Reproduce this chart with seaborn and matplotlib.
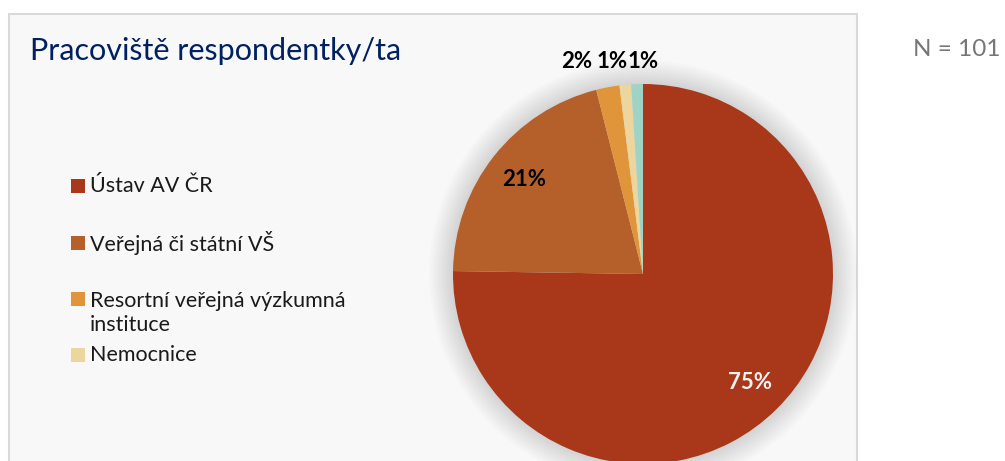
import numpy as np
import matplotlib.pyplot as plt
import seaborn as sns
from matplotlib.patches import Rectangle, Circle

# data
categories = ["Ústav AV ČR", "Veřejná či státní VŠ",
              "Resortní veřejná výzkumná\ninstituce", "Nemocnice", "Jiné"]
counts = [76, 21, 2, 1, 1]
colors = ["#A9381B", "#B5602A", "#E0953A", "#EDD59E", "#9ED3C6"]
n_total = 101
title = "Pracoviště respondentky/ta"

sns.set_style("white")
plt.rcParams['font.family'] = ['Lato', 'DejaVu Sans']

fig = plt.figure(figsize=(10.05, 4.61), dpi=100)
ax = fig.add_axes([0, 0, 1, 1])

cx, cy, R = 643, 274, 190

# y axis is inverted below, so counterclock=True draws clockwise on screen
wedges, texts, autotexts = ax.pie(
    counts, colors=colors, startangle=-90, counterclock=True,
    center=(cx, cy), radius=R, autopct=lambda p: f"{p:.0f}%",
    pctdistance=0.8, wedgeprops=dict(lw=0), frame=True)
ax.set_xlim(0, 1005)
ax.set_ylim(461, 0)
ax.set_aspect('equal')
ax.axis('off')

# chart area box
ax.add_patch(Rectangle((9, 14), 848, 470, facecolor="#F8F8F8",
                       edgecolor="#D9D9D9", lw=1.5, zorder=0))

# soft glow behind the pie
for k in range(12, 0, -1):
    ax.add_patch(Circle((cx, cy), R + k * 2.0, facecolor="#000000",
                        alpha=0.011, lw=0, zorder=1))

for w in wedges:
    w.set_zorder(2)

for i, t in enumerate(autotexts):
    t.set_fontsize(16)
    t.set_fontweight('bold')
    t.set_zorder(3)
    t.set_color("#F2F2F2" if i == 0 else "black")

# small slices get their labels above the pie
small_x = {2: 577, 3: 612, 4: 643}
for i, x in small_x.items():
    autotexts[i].set_position((x, 62))

# legend (only the first four entries are visible in the reference)
leg_y = [186, 243, 313, 355]
box_y = [186, 243, 299, 355]
for i in range(4):
    ax.add_patch(Rectangle((71, box_y[i] - 7), 14, 14, facecolor=colors[i],
                           lw=0, zorder=3))
    ax.text(90, leg_y[i], categories[i], fontsize=15.5, va='center',
            color="#1A1A1A", linespacing=1.3, zorder=3)

ax.text(30, 51, title, fontsize=22, color="#002060", va='center', zorder=3)
ax.text(957, 50, f"N = {n_total}", fontsize=17.5, color="#767676",
        va='center', ha='center')

fig.savefig("out.png", dpi=100, facecolor="white")
